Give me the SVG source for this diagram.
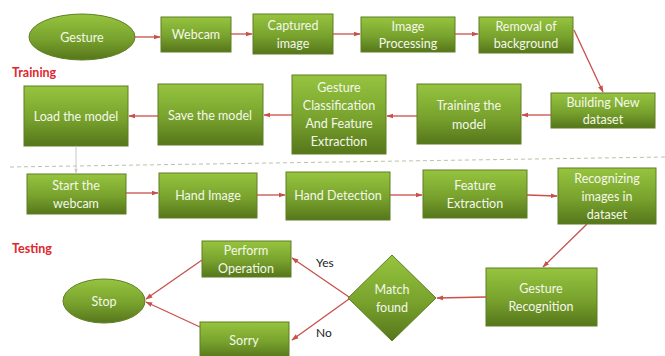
<svg xmlns="http://www.w3.org/2000/svg" width="665" height="356" viewBox="0 0 665 356">
  <defs>
    <linearGradient id="g" x1="0" y1="0" x2="0" y2="1">
      <stop offset="0" stop-color="#96c43f"/>
      <stop offset="0.55" stop-color="#78a22d"/>
      <stop offset="1" stop-color="#56761b"/>
    </linearGradient>
    <marker id="ah" viewBox="0 0 10 10" refX="9" refY="5" markerWidth="7" markerHeight="7" orient="auto" markerUnits="userSpaceOnUse">
      <path d="M0,1.5 L10,5 L0,8.5 z" fill="#c8504a"/>
    </marker>
    <marker id="ahg" viewBox="0 0 10 10" refX="9" refY="5" markerWidth="5" markerHeight="5" orient="auto" markerUnits="userSpaceOnUse">
      <path d="M0,1.5 L10,5 L0,8.5 z" fill="#c8c8c8"/>
    </marker>
  </defs>
  <style>
    .n { fill: url(#g); stroke: #5f7f22; stroke-width: 1; }
    .t { font-family: Lato, "Open Sans", "Liberation Sans", sans-serif; font-size: 12.5px; fill: #f4f8ea; text-anchor: middle; }
    .c { stroke: #c8504a; stroke-width: 1.3; fill: none; marker-end: url(#ah); }
    .lbl { font-family: Lato, "Liberation Sans", sans-serif; font-size: 12.5px; font-weight: bold; fill: #e0252c; }
    .yn { font-family: Lato, "Liberation Sans", sans-serif; font-size: 12px; fill: #222; }
  </style>
  <rect width="665" height="356" fill="#ffffff"/>

  <!-- section divider -->
  <line x1="10" y1="167" x2="665" y2="157" stroke="#b9c4a6" stroke-width="1" stroke-dasharray="4,3"/>

  <text class="lbl" x="12" y="77">Training</text>
  <text class="lbl" x="12" y="253">Testing</text>

  <!-- training row 1 -->
  <g id="gesture"><ellipse class="n" cx="82" cy="37" rx="53" ry="23"/><text class="t" x="82" y="42">Gesture</text></g>
  <g id="webcam"><rect class="n" x="161" y="17" width="70" height="35"/><text class="t" x="196" y="39">Webcam</text></g>
  <g id="captured"><rect class="n" x="253" y="14" width="80" height="40"/><text class="t" x="293" y="30">Captured</text><text class="t" x="293" y="48">image</text></g>
  <g id="processing"><rect class="n" x="361" y="17" width="94" height="35"/><text class="t" x="408" y="31">Image</text><text class="t" x="408" y="48">Processing</text></g>
  <g id="removal"><rect class="n" x="479" y="17" width="94" height="36"/><text class="t" x="526" y="31">Removal of</text><text class="t" x="526" y="48">background</text></g>

  <!-- training row 2 -->
  <g id="building"><rect class="n" x="551" y="93" width="104" height="35"/><text class="t" x="603" y="107">Building New</text><text class="t" x="603" y="124">dataset</text></g>
  <g id="training"><rect class="n" x="417" y="84" width="104" height="60"/><text class="t" x="469" y="110">Training the</text><text class="t" x="469" y="129">model</text></g>
  <g id="classification"><rect class="n" x="292" y="75" width="94" height="79"/><text class="t" x="339" y="92">Gesture</text><text class="t" x="339" y="110">Classification</text><text class="t" x="339" y="128">And Feature</text><text class="t" x="339" y="146">Extraction</text></g>
  <g id="save"><rect class="n" x="158" y="84" width="105" height="61"/><text class="t" x="210" y="120">Save the model</text></g>
  <g id="load"><rect class="n" x="24" y="86" width="104" height="60"/><text class="t" x="76" y="121">Load the model</text></g>

  <!-- testing row 1 -->
  <g id="start"><rect class="n" x="27" y="174" width="99" height="40"/><text class="t" x="76" y="190">Start the</text><text class="t" x="76" y="208">webcam</text></g>
  <g id="handimage"><rect class="n" x="159" y="173" width="98" height="45"/><text class="t" x="208" y="200">Hand Image</text></g>
  <g id="handdetection"><rect class="n" x="286" y="172" width="104" height="48"/><text class="t" x="338" y="200">Hand Detection</text></g>
  <g id="feature"><rect class="n" x="423" y="170" width="104" height="48"/><text class="t" x="475" y="190">Feature</text><text class="t" x="475" y="208">Extraction</text></g>
  <g id="recognizing"><rect class="n" x="558" y="168" width="98" height="56"/><text class="t" x="607" y="183">Recognizing</text><text class="t" x="607" y="201">images in</text><text class="t" x="607" y="219">dataset</text></g>

  <!-- testing row 2 -->
  <g id="recognition"><rect class="n" x="486" y="268" width="111" height="58"/><text class="t" x="541" y="293">Gesture</text><text class="t" x="541" y="311">Recognition</text></g>
  <g id="match"><polygon class="n" points="392,255 436,298 392,341 348,298"/><text class="t" x="392" y="294">Match</text><text class="t" x="392" y="312">found</text></g>
  <g id="perform"><rect class="n" x="202" y="241" width="89" height="36"/><text class="t" x="246" y="255">Perform</text><text class="t" x="246" y="273">Operation</text></g>
  <g id="sorry"><rect class="n" x="200" y="322" width="89" height="36"/><text class="t" x="244" y="345">Sorry</text></g>
  <g id="stop"><ellipse class="n" cx="104" cy="301" rx="41" ry="22"/><text class="t" x="104" y="306">Stop</text></g>

  <text class="yn" x="316" y="267">Yes</text>
  <text class="yn" x="316" y="337">No</text>

  <g id="connectors">
    <path class="c" d="M135,37 L160,37"/>
    <path class="c" d="M231,34 L252,34"/>
    <path class="c" d="M333,34 L360,34"/>
    <path class="c" d="M455,34 L478,34"/>
    <path class="c" d="M574,30 L603,92"/>
    <path class="c" d="M551,115 L522,115"/>
    <path class="c" d="M417,116 L387,116"/>
    <path class="c" d="M292,115 L264,115"/>
    <path class="c" d="M158,116 L129,116"/>
    <path d="M76,146 L76,173" stroke="#c8c8c8" stroke-width="1" fill="none" marker-end="url(#ahg)"/>
    <path class="c" d="M126,193 L158,193"/>
    <path class="c" d="M257,195 L285,195"/>
    <path class="c" d="M390,195 L422,195"/>
    <path class="c" d="M527,195 L557,196"/>
    <path class="c" d="M587,224 L543,267"/>
    <path class="c" d="M486,297 L437,298"/>
    <path class="c" d="M349,297 L292,258"/>
    <path class="c" d="M349,299 L292,340"/>
    <path class="c" d="M202,260 L146,299"/>
    <path class="c" d="M200,327 L146,302"/>
  </g>
</svg>
